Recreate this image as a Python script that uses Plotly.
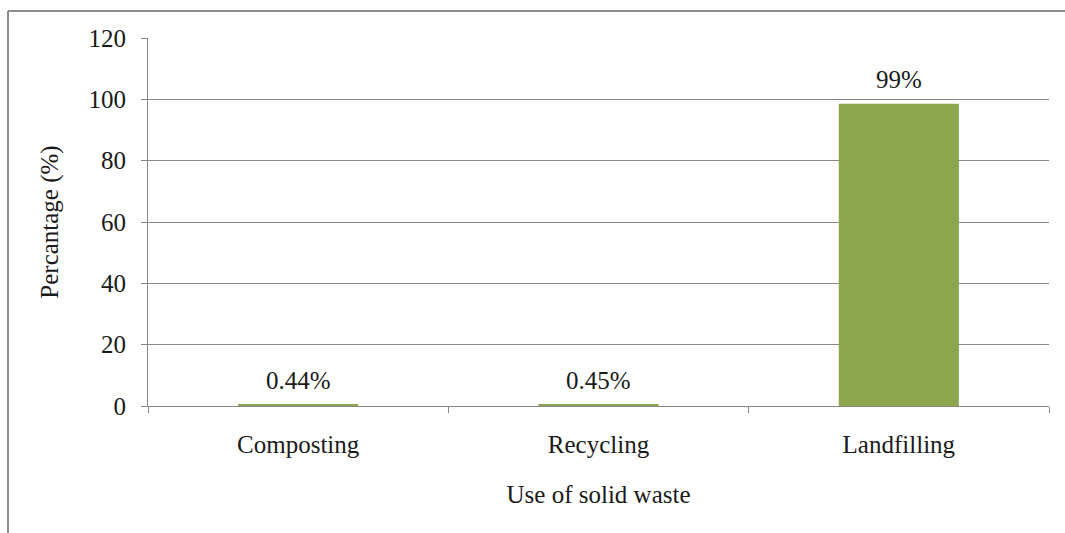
import plotly.graph_objects as go

categories = ["Composting", "Recycling", "Landfilling"]
values = [0.44, 0.45, 98.6]
labels = ["0.44%", "0.45%", "99%"]
y_ticks = [0, 20, 40, 60, 80, 100, 120]

FONT = "'Liberation Serif', 'Times New Roman', Times, serif"
GRAY = "#868686"
TXT = "#1a1a1a"
W, H = 1065, 533
L, R, T, B = 148, 16, 38, 127
pw, ph = W - L - R, H - T - B

fig = go.Figure(go.Bar(
    x=categories, y=values,
    marker=dict(color="#8ba64f", line=dict(width=0)),
    width=0.4,
))

for c, v, t in zip(categories, values, labels):
    fig.add_annotation(x=c, y=v, text=t, showarrow=False, yanchor="bottom",
                       yshift=9, font=dict(family=FONT, size=25, color=TXT))

fx = lambda px: (px - L) / pw
fy = lambda py: (H - B - py) / ph

fig.update_layout(
    width=W, height=H, margin=dict(l=L, r=R, t=T, b=B),
    paper_bgcolor="white", plot_bgcolor="white", showlegend=False,
    font=dict(family=FONT, size=25, color=TXT),
    xaxis=dict(
        type="category", range=[-0.5, 2.5], tickson="boundaries",
        ticks="outside", ticklen=6, tickcolor=GRAY, showline=True,
        linecolor=GRAY, linewidth=1, showgrid=False,
        ticklabelstandoff=16,
        tickfont=dict(family=FONT, size=25, color=TXT),
        title=dict(text="Use of solid waste", standoff=28,
                   font=dict(family=FONT, size=25, color=TXT)),
    ),
    yaxis=dict(
        range=[0, 120], tickvals=y_ticks, ticks="outside", ticklen=6,
        tickcolor=GRAY, showline=True, linecolor=GRAY, linewidth=1,
        showgrid=True, gridcolor=GRAY, gridwidth=1, zeroline=False,
        ticklabelstandoff=10,
        tickfont=dict(family=FONT, size=25, color=TXT),
        title=dict(text="Percantage (%)", standoff=22,
                   font=dict(family=FONT, size=25, color=TXT)),
    ),
    shapes=[
        dict(type="line", xref="paper", yref="paper",
             x0=fx(8), x1=fx(W + 5), y0=fy(11), y1=fy(11),
             line=dict(color="#8c8c8c", width=2)),
        dict(type="line", xref="paper", yref="paper",
             x0=fx(8), x1=fx(8), y0=fy(11), y1=fy(H + 5),
             line=dict(color="#8c8c8c", width=2)),
    ],
)

fig.write_html("out.html")
